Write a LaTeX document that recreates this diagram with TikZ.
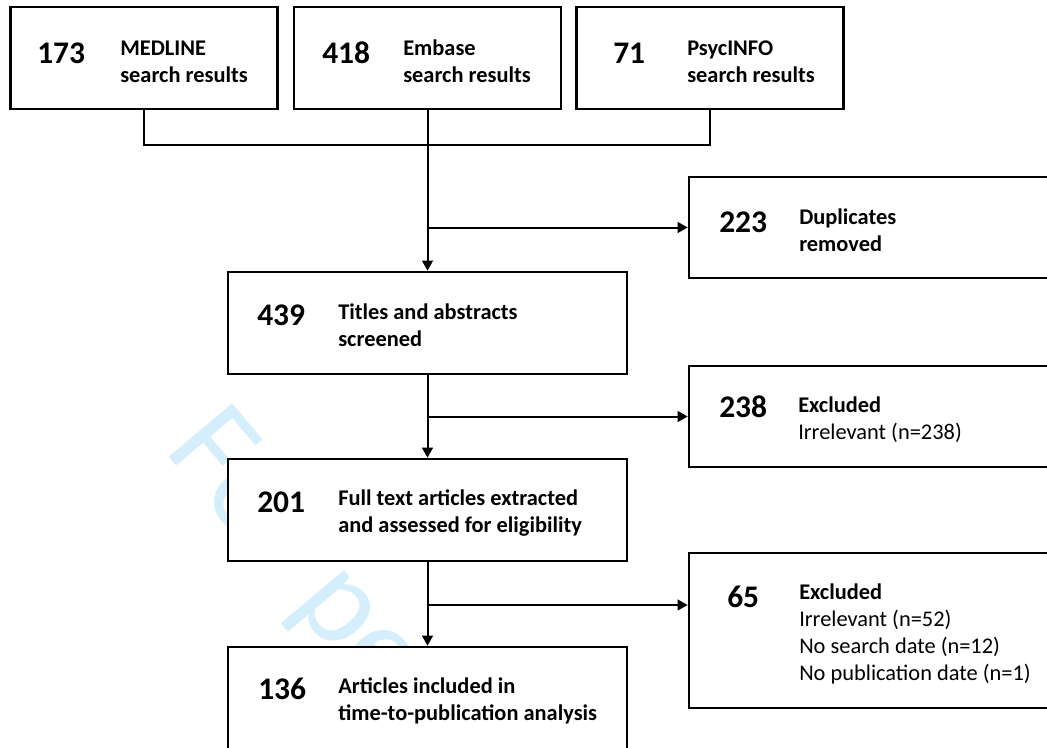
\documentclass[tikz,border=0pt]{standalone}
\usepackage{fontspec}
\setmainfont{Carlito}
\usetikzlibrary{positioning,arrows.meta,calc}
\definecolor{wmark}{RGB}{212,238,251}

\begin{document}
\begin{tikzpicture}[x=0.75pt, y=-0.75pt, >={Triangle[length=7.5pt,width=8pt]},
  box/.style={draw, line width=2pt, fill=white, inner sep=0pt},
  num/.style={anchor=base west, inner sep=0pt, font=\fontsize{23.6}{28}\selectfont\bfseries},
  txt/.style={anchor=base west, inner sep=0pt, align=left, font=\fontsize{16.8}{20.25}\selectfont},
  txtb/.style={txt, font=\fontsize{16.8}{20.25}\selectfont\bfseries},
  flow/.style={line width=1.5pt}]
  \path[use as bounding box, clip] (0,0) rectangle (1047,747);
  \node[rotate=-50, anchor=base west, inner sep=0pt, text=wmark, font=\fontsize{97}{100}\selectfont] (wm) at (163,450) {For peer review};

  % databases (text nodes sit on the baseline of their last line)
  \foreach \nm/\x/\cnt/\xn/\xt/\lab in {medline/144/173/37/120/MEDLINE, embase/427.5/418/322/403/Embase, psyc/710/71/613/687/PsycINFO}{
    \node[box, minimum width=200.25pt, minimum height=76.5pt] (\nm) at (\x,58) {};
    \node[num] (\nm-n) at (\xn,63) {\cnt};
    \node[txtb] (\nm-t) at (\xt,82) {\lab\\search results};
  }

  % main flow
  \node[box, minimum width=299.25pt, minimum height=76.5pt] (titles) at (427.5,323) {};
  \node[num] (titles-n) at (257,325) {439};
  \node[txtb] (titles-t) at (338,346) {Titles and abstracts\\screened};

  \node[box, minimum width=299.25pt, minimum height=76.5pt] (fulltext) at (427.5,510) {};
  \node[num] (fulltext-n) at (257,512) {201};
  \node[txtb] (fulltext-t) at (338,532) {Full text articles extracted\\and assessed for eligibility};

  \node[box, minimum width=299.25pt, minimum height=151.5pt] (articles) at (427.5,748) {};
  \node[num] (articles-n) at (258,699) {136};
  \node[txtb] (articles-t) at (338,720) {Articles included in\\time-to-publication analysis};

  % removed / excluded
  \node[box, minimum width=300pt, minimum height=75.75pt] (dup) at (889,227.5) {};
  \node[num] (dup-n) at (719,232) {223};
  \node[txtb] (dup-t) at (799,251) {Duplicates\\removed};

  \node[box, minimum width=300pt, minimum height=75.75pt] (excl1) at (889,416.5) {};
  \node[num] (excl1-n) at (719,417) {238};
  \node[txt] (excl1-t) at (798,439) {\textbf{Excluded}\\Irrelevant (n=238)};

  \node[box, minimum width=300pt, minimum height=116.25pt] (excl2) at (889,630.5) {};
  \node[num] (excl2-n) at (727,607) {65};
  \node[txt] (excl2-t) at (799,680) {\textbf{Excluded}\\Irrelevant (n=52)\\No search date (n=12)\\No publication date (n=1)};

  % connectors
  \draw[flow] (medline.south) -- ++(0,35) -| (psyc.south);
  \draw[flow,->] (embase) -- (titles);
  \draw[flow,->] (embase.south |- dup.west) -- (dup.west);
  \draw[flow,->] (titles) -- (fulltext);
  \draw[flow,->] (titles.south |- excl1.west) -- (excl1.west);
  \coordinate (br3) at (427.5,605);
  \draw[flow,->] (fulltext) -- (articles);
  \draw[flow,->] (br3) -- (br3 -| excl2.west);
\end{tikzpicture}
\end{document}
